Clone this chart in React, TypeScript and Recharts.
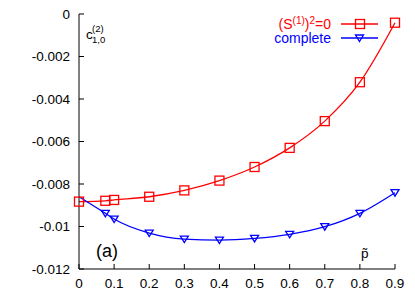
import React from "react";
import { LineChart, Line, XAxis, YAxis } from "recharts";

// p-tilde values where both curves were evaluated
const pValues = [0, 0.075, 0.1, 0.2, 0.3, 0.4, 0.5, 0.6, 0.7, 0.8, 0.9];
// (S^(1))^2 = 0 approximation
const noSquareValues = [
  -0.00883, -0.00879, -0.00875, -0.0086, -0.0083, -0.00784, -0.0072, -0.0063,
  -0.00504, -0.00321, -0.00041,
];
// complete result
const completeValues = [
  -0.0086, -0.00938, -0.00965, -0.01031, -0.01059, -0.01064, -0.01056,
  -0.01037, -0.01001, -0.00938, -0.00841,
];

const xTicks = [0, 0.1, 0.2, 0.3, 0.4, 0.5, 0.6, 0.7, 0.8, 0.9];
const yTicks = [0, -0.002, -0.004, -0.006, -0.008, -0.01, -0.012];

const data = pValues.map((p, i) => ({
  p,
  noSquare: noSquareValues[i],
  complete: completeValues[i],
}));

const RED = "#ff0000";
const BLUE = "#0000ff";
const FONT = "'Liberation Sans', Arial, Helvetica, sans-serif";

const LeftTick = ({ x, y, payload }: any) => (
  <g>
    <line x1={x} x2={x + 5} y1={y} y2={y} stroke="#000" />
    <text x={x - 9} y={y} dy="0.35em" textAnchor="end" fontSize={13.5} fill="#000">
      {String(payload.value)}
    </text>
  </g>
);

const RightTick = ({ x, y }: any) => (
  <line x1={x} x2={x - 5} y1={y} y2={y} stroke="#000" />
);

const BottomTick = ({ x, y, payload }: any) => (
  <g>
    <line x1={x} x2={x} y1={y} y2={y - 5} stroke="#000" />
    <text x={x} y={y + 14} dy="0.35em" textAnchor="middle" fontSize={13.5} fill="#000">
      {String(payload.value)}
    </text>
  </g>
);

const TopTick = ({ x, y }: any) => (
  <line x1={x} x2={x} y1={y} y2={y + 5} stroke="#000" />
);

const SquareDot = ({ cx, cy, index }: any) => (
  <rect
    key={`sq-${index}`}
    x={cx - 4.5}
    y={cy - 4.5}
    width={9}
    height={9}
    fill="none"
    stroke={RED}
    strokeWidth={1.3}
  />
);

// no marker drawn at p=0 for the complete curve
const TriangleDot = ({ cx, cy, index }: any) =>
  index === 0 ? (
    <g key={`tr-${index}`} />
  ) : (
    <polygon
      key={`tr-${index}`}
      points={`${cx - 4},${cy - 3} ${cx + 4},${cy - 3} ${cx},${cy + 3.5}`}
      fill="none"
      stroke={BLUE}
      strokeWidth={1.3}
    />
  );

export default function App() {
  return (
    <div
      style={{
        position: "absolute",
        left: 0,
        top: 0,
        width: 415,
        height: 291,
        fontFamily: FONT,
        background: "#fff",
      }}
    >
      <LineChart
        width={415}
        height={291}
        data={data}
        margin={{ top: 14, right: 20, bottom: 0, left: 0 }}
        style={{ fontFamily: FONT }}
      >
        <XAxis
          dataKey="p"
          type="number"
          domain={[0, 0.9]}
          ticks={xTicks}
          height={22}
          tickSize={0}
          tickMargin={0}
          tickLine={false}
          axisLine={{ stroke: "#000" }}
          tick={<BottomTick />}
          interval={0}
        />
        <XAxis
          xAxisId="t"
          orientation="top"
          dataKey="p"
          type="number"
          domain={[0, 0.9]}
          ticks={xTicks}
          height={0}
          tickSize={0}
          tickMargin={0}
          tickLine={false}
          axisLine={{ stroke: "#000" }}
          tick={<TopTick />}
          interval={0}
        />
        <YAxis
          type="number"
          domain={[-0.012, 0]}
          ticks={yTicks}
          width={79}
          tickSize={0}
          tickMargin={0}
          tickLine={false}
          axisLine={{ stroke: "#000" }}
          tick={<LeftTick />}
          interval={0}
        />
        <YAxis
          yAxisId="r"
          orientation="right"
          type="number"
          domain={[-0.012, 0]}
          ticks={yTicks}
          width={0}
          tickSize={0}
          tickMargin={0}
          tickLine={false}
          axisLine={{ stroke: "#000" }}
          tick={<RightTick />}
          interval={0}
        />
        <Line
          type="monotone"
          dataKey="noSquare"
          stroke={RED}
          strokeWidth={1.3}
          dot={<SquareDot />}
          isAnimationActive={false}
        />
        <Line
          type="monotone"
          dataKey="complete"
          stroke={BLUE}
          strokeWidth={1.3}
          dot={<TriangleDot />}
          isAnimationActive={false}
        />
      </LineChart>

      {/* text labels and legend */}
      <svg
        style={{ position: "absolute", left: 0, top: 0, fontFamily: FONT }}
        width={415}
        height={291}
      >
        <text x={86} y={39} fontSize={13.5} fill="#000">c</text>
        <text x={92} y={32} fontSize={9.5} fill="#000">(2)</text>
        <text x={92} y={43} fontSize={9.5} fill="#000">1,0</text>

        <text x={96} y={257} fontSize={18} fill="#000">(a)</text>
        <text x={361} y={258} fontSize={13.5} fill="#000">p̃</text>

        <text x={331} y={29} fontSize={14} fill={RED} textAnchor="end">
          (S
          <tspan fontSize={10} dy={-5}>(1)</tspan>
          <tspan dy={5}>)</tspan>
          <tspan fontSize={10} dy={-5}>2</tspan>
          <tspan dy={5}>=0</tspan>
        </text>
        <text x={331} y={43} fontSize={14} fill={BLUE} textAnchor="end">
          complete
        </text>
        <line x1={341} x2={378} y1={24} y2={24} stroke={RED} strokeWidth={1.3} />
        <rect x={355.5} y={19.5} width={9} height={9} fill="none" stroke={RED} strokeWidth={1.3} />
        <line x1={341} x2={378} y1={38} y2={38} stroke={BLUE} strokeWidth={1.3} />
        <polygon points="355.5,35 363.5,35 359.5,41.5" fill="none" stroke={BLUE} strokeWidth={1.3} />
      </svg>
    </div>
  );
}
